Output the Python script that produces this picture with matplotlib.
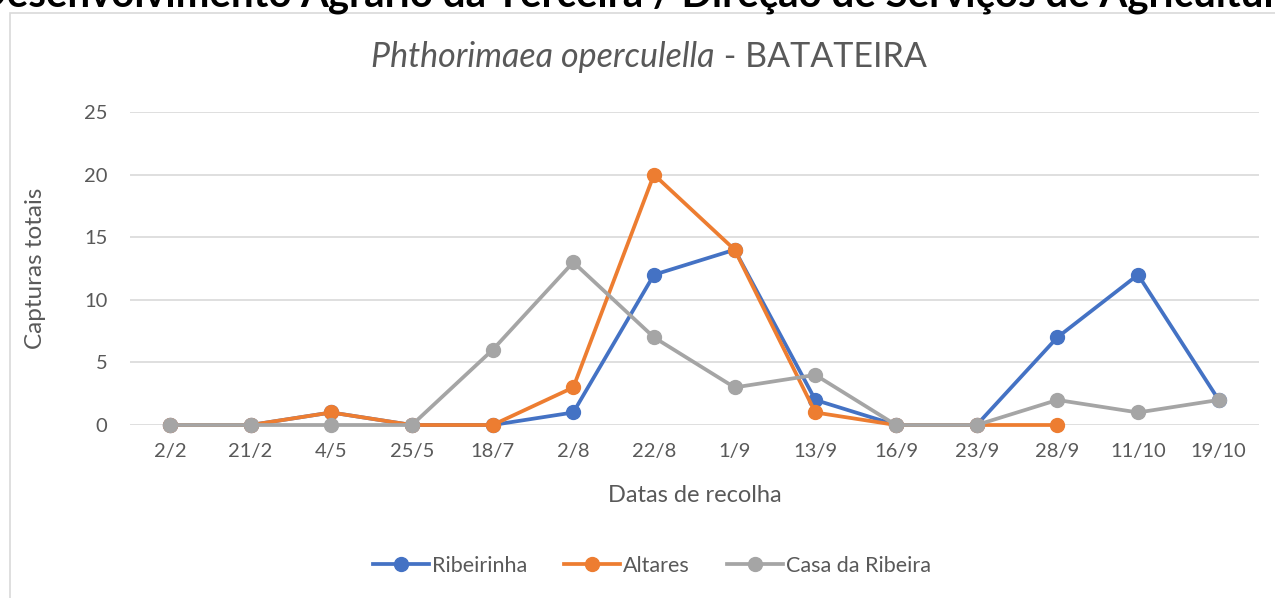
# Gráfico de capturas de Phthorimaea operculella (batateira)
import numpy as np
import matplotlib
matplotlib.use('Agg')
import matplotlib.pyplot as plt
from matplotlib.patches import Rectangle

# --- Dados ---
datas = ['2/2', '21/2', '4/5', '25/5', '18/7', '2/8', '22/8', '1/9',
         '13/9', '16/9', '23/9', '28/9', '11/10', '19/10']
ribeirinha = [0, 0, 1, 0, 0, 1, 12, 14, 2, 0, 0, 7, 12, 2]
altares = [0, 0, 1, 0, 0, 3, 20, 14, 1, 0, 0, 0]          # sem recolhas em 11/10 e 19/10
casa_ribeira = [0, 0, 0, 0, 6, 13, 7, 3, 4, 0, 0, 2, 1, 2]
y_ticks = [0, 5, 10, 15, 20, 25]

cor_texto = '#595959'
plt.rcParams['font.family'] = ['Lato', 'DejaVu Sans']

W, H = 1275, 598
fig = plt.figure(figsize=(W / 100, H / 100), dpi=100)
renderer = fig.canvas.get_renderer()


def largura(texto, **kw):
    # largura em píxeis de um texto
    t = fig.text(0, 0, texto, **kw)
    w = t.get_window_extent(renderer).width
    t.remove()
    return w


# moldura da área do gráfico (cortada à direita e em baixo)
fig.patches.append(Rectangle((10 / W, -0.05), 1.1, 1 - 13 / H + 0.05,
                             transform=fig.transFigure, fill=False,
                             edgecolor='#d9d9d9', linewidth=1.2))

# texto do cabeçalho do documento, cortado no topo
cab_ini = 'Serviço de Desenvolvimento'
cab_fim = 'Agrário da Terceira / Direção de Serviços de Agricultura'
tam = 20 * 975 / largura('Agrário da Terceira / Direção de Serviços de Agricultur',
                         fontsize=20, fontweight='bold')
fig.text(292 / W, 1 - 6 / H, cab_ini, ha='right', va='baseline',
         fontsize=tam, fontweight='bold', color='black')
fig.text(300 / W, 1 - 6 / H, cab_fim, ha='left', va='baseline',
         fontsize=tam, fontweight='bold', color='black')

ax = fig.add_axes([0.1016, 0.2893, 0.8859, 0.5234])
x = np.arange(len(datas))

estilo = dict(linewidth=2.7, marker='o', markersize=10, clip_on=False)
ax.plot(x, ribeirinha, color='#4472C4', label='Ribeirinha', **estilo)
ax.plot(x[:len(altares)], altares, color='#ED7D31', label='Altares', **estilo)
ax.plot(x, casa_ribeira, color='#A5A5A5', label='Casa da Ribeira', **estilo)

ax.set_xlim(-0.5, len(datas) - 0.5)
ax.set_ylim(0, 25)
ax.set_xticks(x)
ax.set_xticklabels(datas)
ax.set_yticks(y_ticks)
ax.tick_params(length=0, labelsize=14.5, colors=cor_texto)
ax.tick_params(axis='x', pad=13)
ax.tick_params(axis='y', pad=16)
ax.grid(axis='y', color='#d9d9d9', linewidth=1.2)
ax.set_axisbelow(True)
for s in ax.spines.values():
    s.set_visible(False)

fig.text(695 / W, 1 - 495 / H, 'Datas de recolha', ha='center', va='center',
         fontsize=17, color=cor_texto)
fig.text(36 / W, 1 - 268 / H, 'Capturas totais', rotation=90,
         ha='center', va='center', fontsize=17.5, color=cor_texto)

# título com o nome científico em itálico, centrado
t1, t2 = 'Phthorimaea operculella', ' - BATATEIRA'
w1 = largura(t1, fontsize=24.5, style='italic')
w2 = largura(t2, fontsize=24.5)
x0 = 649 - (w1 + w2) / 2
fig.text(x0 / W, 1 - 57 / H, t1, ha='left', va='center', fontsize=24.5,
         style='italic', color=cor_texto)
fig.text((x0 + w1) / W, 1 - 57 / H, t2, ha='left', va='center', fontsize=24.5,
         color=cor_texto)

fig.legend(loc='center', bbox_to_anchor=(652 / W, 1 - 566 / H), ncol=3,
           frameon=False, fontsize=15.5, labelcolor=cor_texto,
           handlelength=2.6, handletextpad=0.15, columnspacing=1.7)

fig.savefig('out.png', dpi=100)
